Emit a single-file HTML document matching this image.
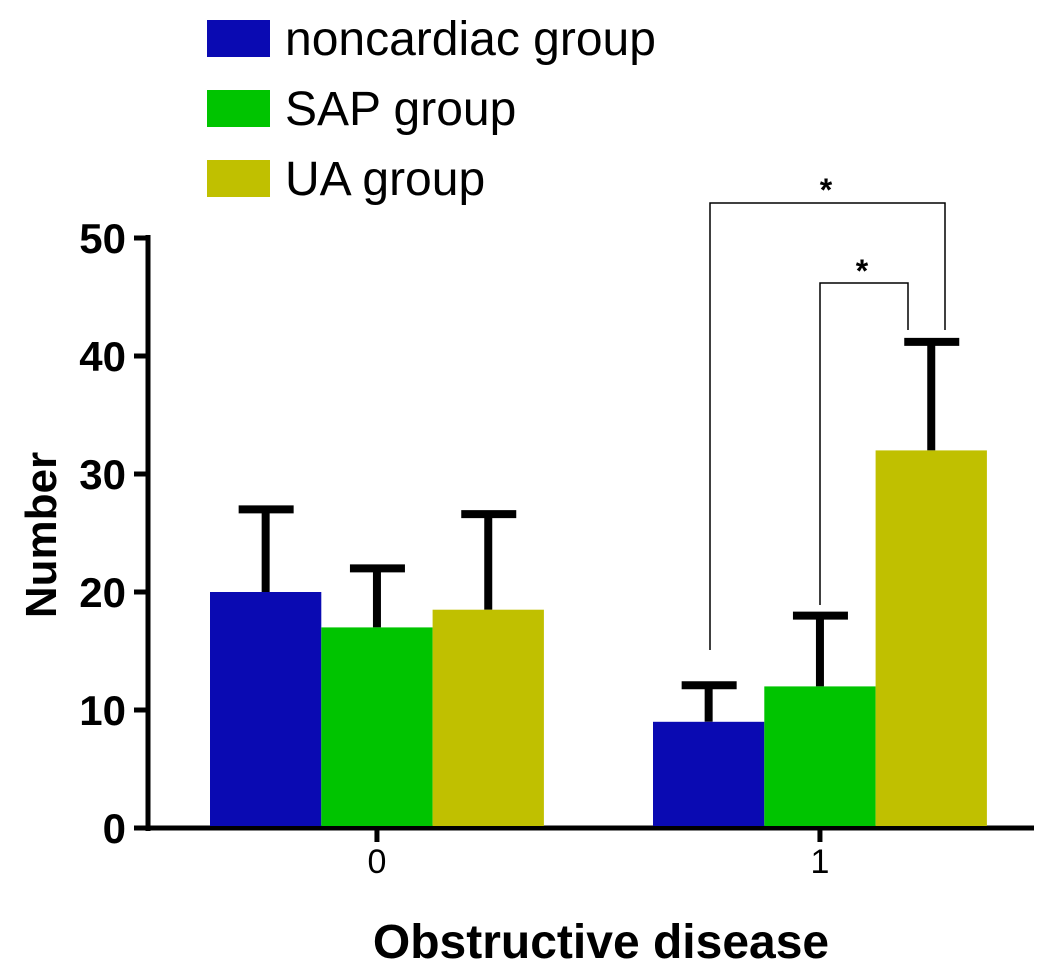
<!DOCTYPE html>
<html><head><meta charset="utf-8"><style>
body{margin:0;background:#fff;}
svg text{font-family:"Liberation Sans",Arial,sans-serif;}
</style></head><body>
<svg width="1059" height="965" viewBox="0 0 1059 965" xmlns="http://www.w3.org/2000/svg">
<g id="legend"></g>
<g id="axes"></g>
<g id="bars"></g>
<g id="sig"></g>
</svg>
<script>
const categories = ["0", "1"];
const seriesNames = ["noncardiac group", "SAP group", "UA group"];
const seriesColors = ["#0a0ab2", "#00c400", "#c0c000"];
const meanValues = [[20, 9], [17, 12], [18.5, 32]];
const errorValues = [[7, 3.1], [5, 6], [8.1, 9.2]];
const yTicks = [0, 10, 20, 30, 40, 50];

const NS = "http://www.w3.org/2000/svg";
const y0 = 828, yScale = 11.8;
function yPos(v){ return y0 - v * yScale; }
const groupStart = [210, 653], barW = 111.3;
function xBar(g, s){ return groupStart[g] + s * barW; }
function mk(tag, attrs, parent){ const e = document.createElementNS(NS, tag); for (const k in attrs) e.setAttribute(k, attrs[k]); parent.appendChild(e); return e; }

const axes = document.getElementById('axes');
const yl = mk('line', {x1:148, y1:y0+3, x2:148, y2:yPos(50)-3, stroke:'#000','stroke-width':5}, axes);


const xl = mk('line', {x1:146, y1:y0, x2:1034, y2:y0, stroke:'#000','stroke-width':5}, axes);


yTicks.forEach(t => {
  const tk = mk('line', {x1:134, y1:yPos(t), x2:148, y2:yPos(t), stroke:'#000','stroke-width':5}, axes);
  
  
  const lb = mk('text', {x:126, y:yPos(t)+15, 'text-anchor':'end', 'font-size':42, 'font-weight':'bold'}, axes);
  lb.textContent = t;
  
  
});
categories.forEach((c, g) => {
  const cx = groupStart[g] + barW * 1.5;
  const tk = mk('line', {x1:cx, y1:y0, x2:cx, y2:y0+14, stroke:'#000','stroke-width':5}, axes);
  
  
  const lb = mk('text', {x:cx, y:y0+45, 'text-anchor':'middle', 'font-size':34}, axes);
  lb.textContent = c;
  
  
});
const yt = mk('text', {x:0, y:0, transform:'translate(56,535) rotate(-90)', 'text-anchor':'middle', 'font-size':44, 'font-weight':'bold'}, axes);
yt.textContent = 'Number';


const xt = mk('text', {x:601, y:958, 'text-anchor':'middle', 'font-size':48, 'font-weight':'bold'}, axes);
xt.textContent = 'Obstructive disease';



const bars = document.getElementById('bars');
meanValues.forEach((vals, s) => {
  vals.forEach((v, g) => {
    const x = xBar(g, s), top = yPos(v), cx = x + barW/2, et = yPos(v + errorValues[s][g]);
    const ev = mk('line', {x1:cx, y1:top, x2:cx, y2:et, stroke:'#000','stroke-width':8}, bars);
    
    
    const ec = mk('line', {x1:cx-27, y1:et, x2:cx+28, y2:et, stroke:'#000','stroke-width':8}, bars);
    
    
    const r = mk('rect', {x:x, y:top, width:barW, height:y0-top-2, fill:seriesColors[s]}, bars);
    
    
  });
});

const legend = document.getElementById('legend');
seriesNames.forEach((n, i) => {
  const yy = 20 + i * 70;
  const sw = mk('rect', {x:207, y:yy, width:63, height:37, fill:seriesColors[i]}, legend);
  
  
  const t = mk('text', {x:285, y:yy+35, 'font-size':48}, legend);
  t.textContent = n;
  
  
});

const sig = document.getElementById('sig');
const p1 = mk('polyline', {points:'710,650 710,203 945,203 945,330', fill:'none', stroke:'#000','stroke-width':1.5}, sig);


const p2 = mk('polyline', {points:'820,605 820,283 908,283 908,330', fill:'none', stroke:'#000','stroke-width':1.5}, sig);


[[826,201],[862,282]].forEach(p => {
  const s = mk('text', {x:p[0], y:p[1], 'text-anchor':'middle', 'font-size':32, 'font-weight':'bold'}, sig);
  s.textContent = '*';
  
  
});
</script>
</body></html>
